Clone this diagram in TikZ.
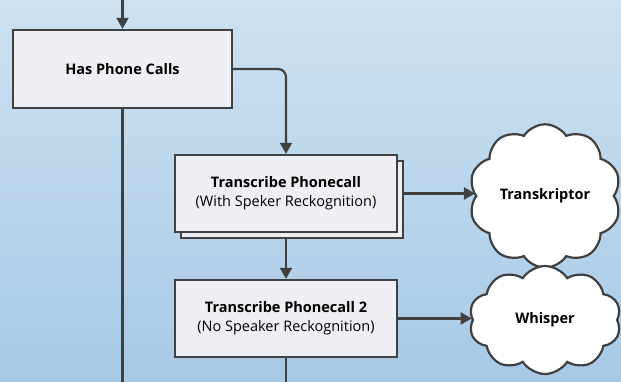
\documentclass[tikz,border=0pt]{standalone}
\usepackage{fontspec}
\setmainfont{Open Sans}
\usetikzlibrary{shapes.symbols,arrows.meta,calc}
\definecolor{bgtop}{HTML}{CDE2F2}
\definecolor{bgbot}{HTML}{A7C9E6}
\definecolor{boxfill}{HTML}{EDEFF2}
\definecolor{linec}{HTML}{404040}
\begin{document}
\begin{tikzpicture}[x=1pt,y=-1pt,
  stepbox/.style={draw=linec, line width=2.4pt, fill=boxfill, rectangle, inner sep=0pt, align=center, font=\fontsize{14.5}{19}\selectfont},
  conn/.style={draw=linec, line width=2.2pt},
  arr/.style={conn, -{Triangle[length=11pt,width=12pt]}},
  cloudnode/.style={cloud, cloud puffs=10, cloud puff arc=115, draw=linec, line width=2.2pt, fill=white, inner sep=0pt, minimum width=152pt, minimum height=108pt, font=\fontsize{14.5}{17}\selectfont\bfseries}
]
\shade[top color=bgtop, bottom color=bgbot] (0,0) rectangle (621,382);
\useasboundingbox (0,0) rectangle (621,382);

\node[stepbox, minimum width=219pt, minimum height=78pt] (box1) at (122.5,69) {\textbf{Has Phone Calls}};
\node[stepbox, minimum width=222pt, minimum height=77pt] (box2s) at (292,199.5) {};
\node[stepbox, minimum width=222pt, minimum height=77pt] (box2) at (286,193.5) {\textbf{Transcribe Phonecall}\\(With Speker Reckognition)};
\node[stepbox, minimum width=222pt, minimum height=77pt] (box3) at (286,318.5) {\textbf{Transcribe Phonecall 2}\\(No Speaker Reckognition)};

\node[cloudnode] (cloud1) at (545,196) {Transkriptor};
\node[cloudnode] (cloud2) at (545,320) {Whisper};

\coordinate (top) at (122.5,0);
\coordinate (bot1) at (122.5,382);
\coordinate (bot3) at (286,382);

\draw[arr] (top) -- (box1.north);
\draw[conn] (box1.south) -- (bot1);
\draw[arr, rounded corners=8pt] (box1.east) -| (box2.north);
\draw[arr] (box2s.south -| box2.south) -- (box3.north);
\draw[conn] (box3.south) -- (bot3);
\draw[arr] (box2s.east |- box2.east) -- (box2.east -| cloud1.west);
\draw[arr] (box3.east) -- (box3.east -| cloud2.west);
\end{tikzpicture}
\end{document}
